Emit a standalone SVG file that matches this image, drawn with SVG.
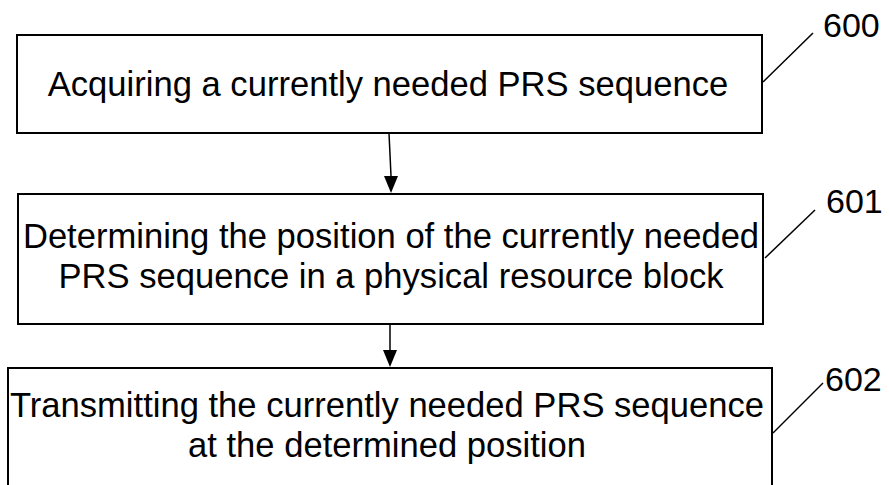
<svg xmlns="http://www.w3.org/2000/svg" width="889" height="485" viewBox="0 0 889 485">
<style>
.box{fill:#fff;stroke:#000;stroke-width:2}
.t{font-family:"Liberation Sans",Arial,sans-serif;font-size:34.6px;fill:#000;text-anchor:middle}
.n{font-family:"Liberation Sans",Arial,sans-serif;font-size:34px;fill:#000}
.c{stroke:#000;stroke-width:1.5;fill:none}
</style>
<rect width="889" height="485" fill="#fff"/>
<g id="n600">
<rect class="box" x="17" y="35" width="745" height="98"/>
<text class="t" x="388" y="96">Acquiring a currently needed PRS sequence</text>
</g>
<g id="n601">
<rect class="box" x="18" y="194" width="745" height="130"/>
<text class="t" x="391" y="248">Determining the position of the currently needed</text>
<text class="t" x="391" y="288">PRS sequence in a physical resource block</text>
</g>
<g id="n602">
<rect class="box" x="8" y="368" width="764" height="130"/>
<text class="t" x="387" y="417">Transmitting the currently needed PRS sequence</text>
<text class="t" x="387" y="457">at the determined position</text>
</g>
<g id="labels">
<text class="n" x="823" y="37">600</text>
<text class="n" x="826" y="213">601</text>
<text class="n" x="825" y="391">602</text>
</g>
<g id="connectors">
<line class="c" x1="389" y1="133" x2="391" y2="176"/>
<path d="M384,176 L398,176 L391,193 Z" fill="#000"/>
<line class="c" x1="390" y1="324" x2="390" y2="350"/>
<path d="M383,350 L397,350 L390,367 Z" fill="#000"/>
<line class="c" x1="763" y1="82" x2="813" y2="33"/>
<line class="c" x1="765" y1="258" x2="815" y2="210"/>
<line class="c" x1="773" y1="433" x2="823" y2="383"/>
</g>
</svg>
